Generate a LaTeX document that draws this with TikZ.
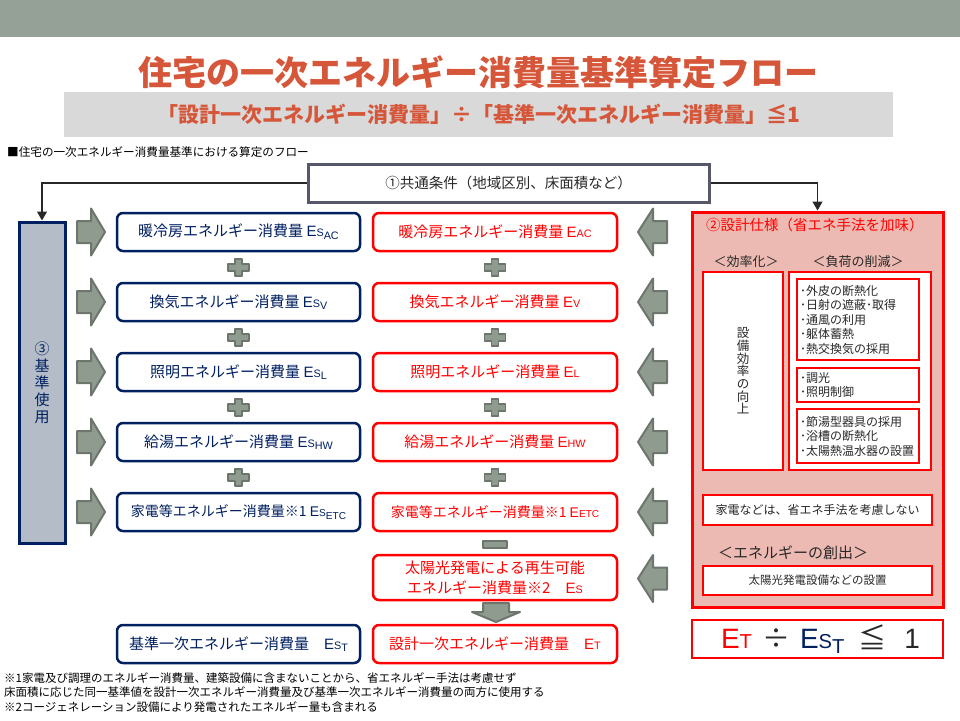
\documentclass[tikz,border=0pt]{standalone}
\usepackage{fontspec}
\setmainfont{Noto Sans CJK JP}
\newfontfamily\lat{Liberation Sans}
\usetikzlibrary{positioning}
\usetikzlibrary{arrows.meta}

\definecolor{navy}{RGB}{0,32,96}
\definecolor{band}{RGB}{149,160,150}
\definecolor{titlered}{RGB}{214,86,58}
\definecolor{lightgray}{RGB}{217,217,217}
\definecolor{arrowfill}{RGB}{143,155,143}
\definecolor{arrowline}{RGB}{108,118,109}
\definecolor{pink}{RGB}{236,186,178}
\definecolor{kijunfill}{RGB}{180,189,199}
\definecolor{frame}{RGB}{86,88,105}
\definecolor{ink}{RGB}{40,40,40}

\newcommand{\kEs}[1]{{\lat E\scalebox{0.72}{S}\raisebox{-0.35ex}{\scalebox{0.72}{#1}}}}	% Es с индексом
\newcommand{\sEd}[1]{{\lat E\scalebox{0.72}{#1}}}		% E с малыми буквами

\begin{document}
\begin{tikzpicture}
	[	x=1pt, y=-1pt,			% координаты в пикселях, ось y вниз
		kbox/.style={draw=navy, line width=2.5, rounded corners=6, fill=white, minimum width=243,
			minimum height=38, inner sep=0, text=navy, font=\fontsize{15}{18}\selectfont},	% базовые блоки
		sbox/.style={kbox, draw=red, text=red, minimum width=244},		% проектные блоки
		fatarrow/.style={fill=arrowfill, draw=arrowline, line width=2, line join=round},	% толстые стрелки
		fbox/.style={draw=red, line width=2.5, fill=white, inner sep=0, text=ink},		% белые рамки
		lbl/.style={text=ink, font=\fontsize{13}{13}\selectfont},		% подписи в панели
		conn/.style={draw=ink, line width=1.2, -{Triangle[width=10,length=9]}}	]	% соединители
	\useasboundingbox (0,0) rectangle (960,720);		% размер листа
	\fill[band] (0,0) rectangle (960,37);		% полоса сверху
	\node[text=titlered, font=\fontsize{34}{34}\selectfont\bfseries] (title) at (478,72)
		{住宅の一次エネルギー消費量基準算定フロー};
	\node[fill=lightgray, minimum width=829, minimum height=45, text=titlered,
		font=\fontsize{21}{21}\selectfont\bfseries] (ratio) at (478.5,114.5)
		{「設計一次エネルギー消費量」÷「基準一次エネルギー消費量」≦1};
	\node[anchor=west, inner sep=0, font=\fontsize{11.6}{11.6}\selectfont] (midashi) at (7,152)
		{■住宅の一次エネルギー消費量基準における算定のフロー};
	% общие условия и базовое использование
	\node[draw=frame, line width=3, fill=white, minimum width=401, minimum height=38, text=ink,
		font=\fontsize{14.5}{14.5}\selectfont] (kyotsu) at (508.5,183) {①共通条件（地域区別、床面積など）};
	\node[draw=navy, line width=3, fill=kijunfill, minimum width=46, minimum height=321, inner sep=0,
		text=navy, align=center, font=\fontsize{15}{17}\selectfont] (kijun) at (42,382.5) {③\\基\\準\\使\\用};
	\node[draw=red, line width=3, fill=pink, minimum width=251, minimum height=395] (sekkei) at (817.5,409.5) {};
	\draw[conn] (kyotsu.west) -| (kijun.north);
	\draw[conn] (kyotsu.east) -| (sekkei.north);
	% две колонки блоков
	\foreach \n/\y/\txt/\sub in {ac/232/暖冷房/AC, v/302/換気/V, l/372/照明/L, hw/442/給湯/HW}
	{
		\node[kbox] (ks\n) at (238.5,\y) {\txt エネルギー消費量 \kEs{\sub}};
		\node[sbox] (sk\n) at (495,\y) {\txt エネルギー消費量 \sEd{\sub}};
	}
	\node[kbox, font=\fontsize{14}{18}\selectfont] (ksetc) at (238.5,512) {家電等エネルギー消費量※1 \kEs{ETC}};
	\node[sbox, font=\fontsize{14}{18}\selectfont] (sketc) at (495,512) {家電等エネルギー消費量※1 \sEd{ETC}};
	\node[sbox, minimum height=45, align=center, font=\fontsize{15}{20}\selectfont] (sol) at (495,577.5)
		{太陽光発電による再生可能\\エネルギー消費量※2　\sEd{S}};
	\node[kbox] (kst) at (238.5,644) {基準一次エネルギー消費量　\kEs{T}};
	\node[sbox] (skt) at (495,644) {設計一次エネルギー消費量　\sEd{T}};
	% толстые стрелки вправо и влево
	\foreach \y in {232,302,372,442,512}
		\draw[fatarrow,shift={(91,\y)}] (-14,-11) -- (0,-11) -- (0,-23.5) -- (14,0) -- (0,23.5) -- (0,11) -- (-14,11) -- cycle;
	\foreach \y in {232,302,372,442,512,578.5}
		\draw[fatarrow,shift={(652.5,\y)}] (14.5,-11) -- (0.5,-11) -- (0.5,-23.5) -- (-14.5,0) -- (0.5,23.5) -- (0.5,11) -- (14.5,11) -- cycle;
	% плюсы, минус и стрелка вниз
	\foreach \x in {238.5,495}
		\foreach \y in {267.5,337.5,407.5,477.5}
			\draw[fatarrow,line width=1.5,shift={(\x,\y)}] (-3.5,-8.5) -- (3.5,-8.5) -- (3.5,-3.5) -- (10.5,-3.5) -- (10.5,3.5)
				-- (3.5,3.5) -- (3.5,8.5) -- (-3.5,8.5) -- (-3.5,3.5) -- (-10.5,3.5) -- (-10.5,-3.5) -- (-3.5,-3.5) -- cycle;
	\draw[fatarrow,line width=1.5] (483,541) rectangle (507,548);
	\draw[fatarrow,shift={(496,603)}] (-13,0) -- (13,0) -- (13,9) -- (24,9) -- (0,19) -- (-24,9) -- (-13,9) -- cycle;
	% панель проектных решений
	\node[anchor=west, inner sep=0, text=red, font=\fontsize{14.5}{14.5}\selectfont] (shiyou) at (706,225)
		{②設計仕様（省エネ手法を加味）};
	\node[lbl] (kouritsu) at (746,262) {＜効率化＞};
	\node[lbl] (fuka) at (858,262) {＜負荷の削減＞};
	\node[fbox, minimum width=80, minimum height=198, align=center, font=\fontsize{12.5}{12.7}\selectfont]
		(setsubi) at (743,371) {設\\備\\効\\率\\の\\向\\上};
	\node[fbox, minimum width=142, minimum height=198] (sakugen) at (860,371) {};
	\node[fbox, text width=116, inner xsep=3, minimum height=81, align=left, font=\fontsize{12}{14.5}\selectfont]
		(gaihi) at (858,319.5) {･外皮の断熱化\\･日射の遮蔽･取得\\･通風の利用\\･躯体蓄熱\\･熱交換気の採用};
	\node[fbox, text width=116, inner xsep=3, minimum height=34, align=left, font=\fontsize{12}{14.5}\selectfont]
		(choukou) at (858,385) {･調光\\･照明制御};
	\node[fbox, text width=116, inner xsep=3, minimum height=54, align=left, font=\fontsize{12}{14.5}\selectfont]
		(setsuyu) at (858,436) {･節湯型器具の採用\\･浴槽の断熱化\\･太陽熱温水器の設置};
	\node[fbox, minimum width=229, minimum height=30, font=\fontsize{12}{12}\selectfont] (kaden) at (817.5,510)
		{家電などは、省エネ手法を考慮しない};
	\node[lbl, font=\fontsize{15}{15}\selectfont] (sousyutsu) at (793,553) {＜エネルギーの創出＞};
	\node[fbox, minimum width=229, minimum height=29, font=\fontsize{11.5}{11.5}\selectfont] (taiyou) at (817.5,580.5)
		{太陽光発電設備などの設置};
	% итоговое отношение
	\node[fbox, minimum width=251, minimum height=38, font=\fontsize{28}{28}\selectfont] (shiki) at (817.5,639)
		{\hspace{6pt}{\color{red}\sEd{T}}\hspace{10pt}÷\hspace{10pt}{\color{navy}\kEs{T}}\hspace{14pt}≦\hspace{18pt}{\lat 1}};
	% примечания
	\node[anchor=west, inner sep=0, align=left, font=\fontsize{11.5}{14.5}\selectfont] (chuki) at (4,692.5)
		{※1家電及び調理のエネルギー消費量、建築設備に含まないことから、省エネルギー手法は考慮せず\\
		床面積に応じた同一基準値を設計一次エネルギー消費量及び基準一次エネルギー消費量の両方に使用する\\
		※2コージェネレーション設備により発電されたエネルギー量も含まれる};
\end{tikzpicture}
\end{document}
